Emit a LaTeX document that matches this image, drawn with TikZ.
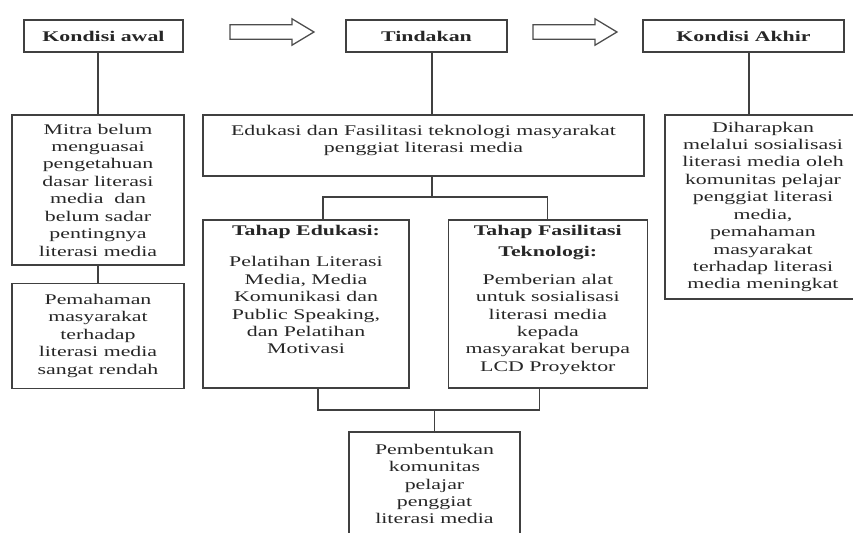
\documentclass[tikz,border=0pt]{standalone}
\usepackage{fontspec}
\setmainfont{Liberation Serif}[FakeStretch=1.48]
\usepackage{tikz}
\usetikzlibrary{shapes,arrows,positioning}

\newcommand{\isikotak}[3]{\parbox[c][#2][t]{#1}{\centering #3}}

\begin{document}
\begin{tikzpicture}[x=0.025cm, y=-0.025cm, font=\fontsize{10.5}{12.4}\selectfont, text=black!85]
    % Gaya
    \tikzstyle{kotak}=[rectangle, draw=black!75, line width=0.9pt, align=center, inner sep=0pt]
    \tikzstyle{judul}=[kotak, font=\fontsize{10.5}{12.4}\selectfont\bfseries, minimum height=0.8cm]
    \tikzstyle{panah}=[single arrow, draw=black!70, line width=0.9pt, minimum height=2.1cm, minimum width=0.625cm, single arrow head extend=0.15cm, single arrow tip angle=62, inner xsep=0pt, inner ysep=0.1625cm]
    \tikzstyle{garis}=[draw=black!75, line width=0.9pt]

    \path[use as bounding box, clip] (0,0) rectangle (853,532);

    % Kotak atas
    \node (awal) [judul, minimum width=3.975cm] at (103.5,36) {Kondisi awal};
    \node (tindakan) [judul, minimum width=4.025cm] at (426.5,36) {Tindakan};
    \node (akhir) [judul, minimum width=5.025cm] at (743.5,36) {Kondisi Akhir};
    \node (panah1) [panah] at (266,32) {};
    \node (panah2) [panah] at (569,32) {};

    % Kotak isi
    \node (mitra) [kotak, minimum width=4.3cm, minimum height=3.75cm] at (98,190) {Mitra belum\\ menguasai\\ pengetahuan\\ dasar literasi\\ media\ \ dan\\ belum sadar\\ pentingnya\\ literasi media};
    \node (paham) [kotak, minimum width=4.3cm, minimum height=2.625cm, below=0.425cm of mitra] {Pemahaman\\ masyarakat\\ terhadap\\ literasi media\\ sangat rendah};
    \node (edukasi) [kotak, minimum width=11.025cm, minimum height=1.525cm] at (423.5,145.5) {\isikotak{10.5cm}{1.025cm}{Edukasi dan Fasilitasi teknologi masyarakat\\ penggiat literasi media}};
    \node (tahapedu) [kotak, minimum width=5.15cm, minimum height=4.2cm] at (306,304) {\isikotak{5cm}{3.95cm}{\textbf{Tahap Edukasi:}\\[10pt] Pelatihan Literasi\\ Media, Media\\ Komunikasi dan\\ Public Speaking,\\ dan Pelatihan\\ Motivasi}};
    \node (tahapfas) [kotak, minimum width=4.975cm, minimum height=4.2cm, right=0.95cm of tahapedu] {\isikotak{4.8cm}{3.95cm}{\textbf{Tahap Fasilitasi}\\[3pt] \textbf{Teknologi:}\\[7pt] Pemberian alat\\ untuk sosialisasi\\ literasi media\\ kepada\\ masyarakat berupa\\ LCD Proyektor}};
    \node (bentuk) [kotak, minimum width=4.275cm, minimum height=2.6cm] at (434.5,484) {Pembentukan\\ komunitas\\ pelajar\\ penggiat\\ literasi media};
    \node (harap) [kotak, minimum width=4.9cm, minimum height=4.6cm] at (763,207) {Diharapkan\\ melalui sosialisasi\\ literasi media oleh\\ komunitas pelajar\\ penggiat literasi\\ media,\\ pemahaman\\ masyarakat\\ terhadap literasi\\ media meningkat};

    % Penghubung
    \coordinate (tengah) at (432,0);
    \coordinate (kanan) at (749,0);
    \coordinate (cabang) at (432,197);
    \coordinate (gabung) at (434.5,410);
    \draw [garis] (mitra.north |- awal.south) -- (mitra.north);
    \draw [garis] (mitra) -- (paham);
    \draw [garis] (tindakan.south -| tengah) -- (edukasi.north -| tengah);
    \draw [garis] (edukasi.south -| tengah) -- (cabang);
    \draw [garis] ([xshift=0.425cm]tahapedu.north) |- (cabang) -| (tahapfas.north);
    \draw [garis] ([xshift=0.3cm]tahapedu.south) |- (gabung) -| ([xshift=-0.2cm]tahapfas.south);
    \draw [garis] (gabung) -- (bentuk.north);
    \draw [garis] (akhir.south -| kanan) -- (harap.north -| kanan);

\end{tikzpicture}
\end{document}
